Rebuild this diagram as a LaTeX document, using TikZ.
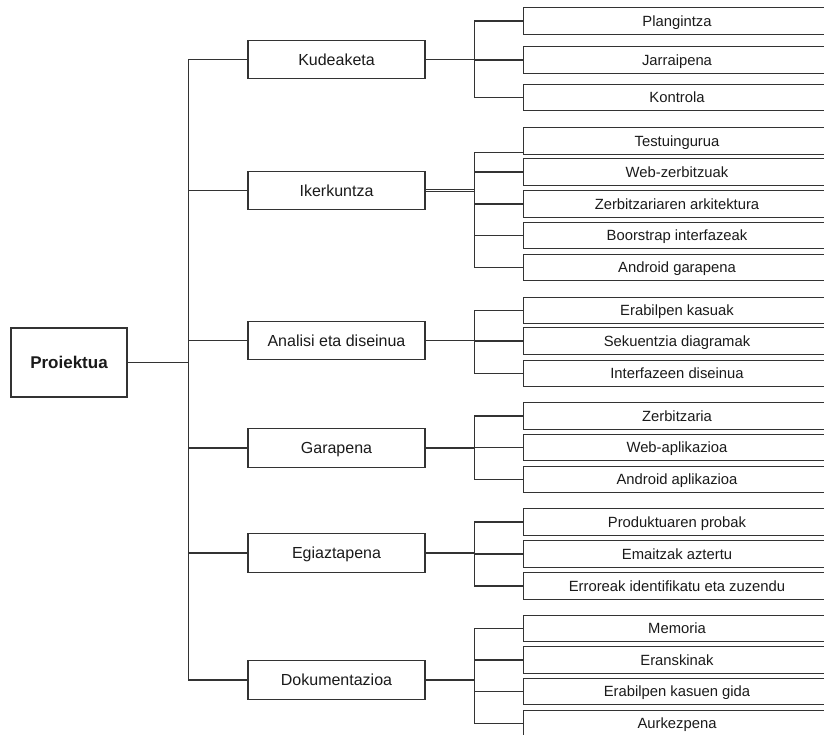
\documentclass[tikz,border=0pt]{standalone}
\usepackage{fontspec}
\setmainfont{Liberation Sans}
\definecolor{linegray}{HTML}{333333}
\definecolor{textgray}{HTML}{1A1A1A}
\begin{document}
\begin{tikzpicture}[x=1pt,y=-1pt,
  box/.style={draw=linegray, line width=1.2pt, rectangle, inner sep=0pt, text=textgray, text depth=0pt},
  rootbox/.style={box, minimum width=116pt, minimum height=69pt, text height=12.2pt, font=\fontsize{17}{20}\selectfont\bfseries},
  topic/.style={box, minimum width=177pt, minimum height=38.5pt, text height=11.5pt, font=\fontsize{16}{19}\selectfont},
  leaf/.style={box, minimum width=307pt, minimum height=26.5pt, text height=10.6pt, font=\fontsize{14.8}{17}\selectfont},
  link/.style={draw=linegray, line width=1.2pt},
  twinlink/.style={draw=linegray, line width=0.9pt, double=white, double distance=1.1pt}]
\useasboundingbox (0,0) rectangle (824,735);
\clip (0,0) rectangle (824,735);

% root
\node[rootbox] (root) at (69,362.5) {Proiektua};

% main work packages
\node[topic] (kud) at (336.5,59.5)  {Kudeaketa};
\node[topic] (ike) at (336.5,190.5) {Ikerkuntza};
\node[topic] (ana) at (336.5,340.5) {Analisi eta diseinua};
\node[topic] (gar) at (336.5,448)   {Garapena};
\node[topic] (egi) at (336.5,553)   {Egiaztapena};
\node[topic] (dok) at (336.5,680)   {Dokumentazioa};

% tasks
\node[leaf] (kud1) at (677,21)    {Plangintza};
\node[leaf] (kud2) at (677,60)    {Jarraipena};
\node[leaf] (kud3) at (677,97.5)  {Kontrola};

\node[leaf] (ike1) at (677,141)   {Testuingurua};
\node[leaf] (ike2) at (677,172)   {Web-zerbitzuak};
\node[leaf] (ike3) at (677,204)   {Zerbitzariaren arkitektura};
\node[leaf] (ike4) at (677,235.5) {Boorstrap interfazeak};
\node[leaf] (ike5) at (677,267.5) {Android garapena};

\node[leaf] (ana1) at (677,310.5) {Erabilpen kasuak};
\node[leaf] (ana2) at (677,341)   {Sekuentzia diagramak};
\node[leaf] (ana3) at (677,373.5) {Interfazeen diseinua};

\node[leaf] (gar1) at (677,416)   {Zerbitzaria};
\node[leaf] (gar2) at (677,447.5) {Web-aplikazioa};
\node[leaf] (gar3) at (677,479.5) {Android aplikazioa};

\node[leaf] (egi1) at (677,522)   {Produktuaren probak};
\node[leaf] (egi2) at (677,554)   {Emaitzak aztertu};
\node[leaf] (egi3) at (677,586)   {Erroreak identifikatu eta zuzendu};

\node[leaf] (dok1) at (677,628.5) {Memoria};
\node[leaf] (dok2) at (677,660)   {Eranskinak};
\node[leaf] (dok3) at (677,691.5) {Erabilpen kasuen gida};
\node[leaf] (dok4) at (677,723.5) {Aurkezpena};

% root to work packages
\foreach \t in {kud,ike,ana,gar,egi,dok}
  \draw[link] (root.east) -- ++(61,0) |- (\t.west);

% work packages to tasks
\foreach \t in {kud1,kud2,kud3}
  \draw[link] (kud.east) -- ++(49,0) |- (\t.west);

\coordinate (ikej) at ([xshift=49pt]ike.east);
\draw[twinlink] (ike.east) -- (ikej);
\draw[link] (ikej) |- ([yshift=2pt]ike1.south west);
\foreach \t in {ike2,ike3,ike4,ike5}
  \draw[link] (ikej) |- (\t.west);

\foreach \t in {ana1,ana2,ana3}
  \draw[link] (ana.east) -- ++(49,0) |- (\t.west);
\foreach \t in {gar1,gar2,gar3}
  \draw[link] (gar.east) -- ++(49,0) |- (\t.west);
\foreach \t in {egi1,egi2,egi3}
  \draw[link] (egi.east) -- ++(49,0) |- (\t.west);
\foreach \t in {dok1,dok2,dok3,dok4}
  \draw[link] (dok.east) -- ++(49,0) |- (\t.west);
\end{tikzpicture}
\end{document}
